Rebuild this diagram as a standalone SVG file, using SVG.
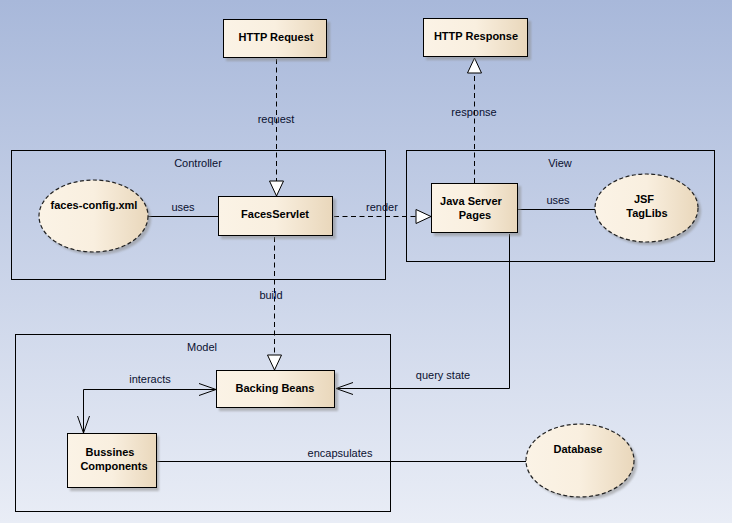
<svg xmlns="http://www.w3.org/2000/svg" width="732" height="523" viewBox="0 0 732 523">
<defs>
<linearGradient id="bg" x1="0" y1="0" x2="0" y2="1">
<stop offset="0" stop-color="#a8b8da"/>
<stop offset="1" stop-color="#e9edf6"/>
</linearGradient>
<linearGradient id="nf" x1="0" y1="0" x2="1" y2="0">
<stop offset="0" stop-color="#fbf3e6"/>
<stop offset="0.5" stop-color="#f9efdf"/>
<stop offset="1" stop-color="#e9d7bb"/>
</linearGradient>
<filter id="sh" x="-20%" y="-20%" width="150%" height="150%">
<feGaussianBlur stdDeviation="1"/>
</filter>
<marker id="tri" markerWidth="16" markerHeight="18" refX="16" refY="8" orient="auto" markerUnits="userSpaceOnUse">
<path d="M1,1 L16,8 L1,15 Z" fill="#ffffff" stroke="#000" stroke-width="1"/>
</marker>
<marker id="open" markerWidth="20" markerHeight="14" refX="18" refY="7" orient="auto" markerUnits="userSpaceOnUse">
<path d="M1,1 L18,7 L1,13" fill="none" stroke="#000" stroke-width="1"/>
</marker>
<marker id="openS" markerWidth="20" markerHeight="14" refX="2" refY="7" orient="auto" markerUnits="userSpaceOnUse">
<path d="M19,1 L2,7 L19,13" fill="none" stroke="#000" stroke-width="1"/>
</marker>
</defs>
<style>
.frame{fill:none;stroke:#000;stroke-width:1}
.box{fill:url(#nf);stroke:#000;stroke-width:1}
.ell{fill:url(#nf);stroke:#222;stroke-width:1.2;stroke-dasharray:4,2.5}
.shadow{fill:#8c8c8c;opacity:0.55;filter:url(#sh)}
.nt{font-family:"Liberation Sans",Arial,sans-serif;font-size:11px;font-weight:bold;fill:#000;text-anchor:middle}
.lt{font-family:"Liberation Sans",Arial,sans-serif;font-size:11px;fill:#0a1030;text-anchor:middle}
.ln{fill:none;stroke:#000;stroke-width:1}
.dash{stroke-dasharray:5,3.5}
</style>
<rect x="0" y="0" width="732" height="523" fill="url(#bg)"/>

<g id="frames">
<g id="controller"><rect class="frame" x="11.5" y="150.5" width="374" height="129"/><text class="lt" x="198" y="167">Controller</text></g>
<g id="view"><rect class="frame" x="406.5" y="150.5" width="308" height="111"/><text class="lt" x="560" y="167">View</text></g>
<g id="model"><rect class="frame" x="15.5" y="334.5" width="375" height="177"/><text class="lt" x="202" y="351">Model</text></g>
</g>

<g id="connectors">
<path class="ln dash" d="M276.5,59 L276.5,196" marker-end="url(#tri)"/>
<text class="lt" x="276" y="123">request</text>
<path class="ln dash" d="M474.5,183 L474.5,58" marker-end="url(#tri)"/>
<text class="lt" x="474" y="116">response</text>
<path class="ln dash" d="M334,216.5 L431,216.5" marker-end="url(#tri)"/>
<text class="lt" x="382" y="211">render</text>
<path class="ln dash" d="M274.5,237 L274.5,370" marker-end="url(#tri)"/>
<text class="lt" x="271" y="299">build</text>
<path class="ln" d="M148,216.5 L218,216.5"/>
<text class="lt" x="183" y="211">uses</text>
<path class="ln" d="M518,209.5 L595,209.5"/>
<text class="lt" x="558" y="204">uses</text>
<path class="ln" d="M509.5,234 L509.5,388.5 L336,388.5" marker-end="url(#open)"/>
<text class="lt" x="443" y="379">query state</text>
<path class="ln" d="M216,389.5 L83.5,389.5 L83.5,433" marker-start="url(#openS)" marker-end="url(#open)"/>
<text class="lt" x="150" y="383">interacts</text>
<path class="ln" d="M157,461.5 L526,461.5"/>
<text class="lt" x="340" y="457">encapsulates</text>
</g>

<g id="http-request"><rect class="shadow" x="226" y="22" width="104" height="39"/><rect class="box" x="223.5" y="19.5" width="103" height="38"/><text class="nt" x="276" y="41">HTTP Request</text></g>
<g id="http-response"><rect class="shadow" x="426" y="21" width="105" height="39"/><rect class="box" x="423.5" y="18.5" width="104" height="38"/><text class="nt" x="476" y="40">HTTP Response</text></g>
<g id="faces-config"><ellipse class="shadow" cx="96.5" cy="219" rx="54.5" ry="36"/><ellipse class="ell" cx="93.5" cy="216" rx="54.5" ry="36"/><text class="nt" x="94" y="209">faces-config.xml</text></g>
<g id="faces-servlet"><rect class="shadow" x="221" y="199" width="115" height="40"/><rect class="box" x="218.5" y="196.5" width="114" height="39"/><text class="nt" x="275" y="218">FacesServlet</text></g>
<g id="jsp"><rect class="shadow" x="434" y="186" width="87" height="50"/><rect class="box" x="431.5" y="183.5" width="86" height="49"/><text class="nt" x="471" y="205">Java Server</text><text class="nt" x="475" y="219">Pages</text></g>
<g id="jsf-taglibs"><ellipse class="shadow" cx="649.5" cy="211" rx="51.5" ry="34"/><ellipse class="ell" cx="646.5" cy="208" rx="51.5" ry="34"/><text class="nt" x="644" y="203">JSF</text><text class="nt" x="647" y="217">TagLibs</text></g>
<g id="backing-beans"><rect class="shadow" x="219" y="373" width="119" height="38"/><rect class="box" x="216.5" y="370.5" width="118" height="37"/><text class="nt" x="275" y="392">Backing Beans</text></g>
<g id="bussines-components"><rect class="shadow" x="70" y="436" width="89" height="55"/><rect class="box" x="67.5" y="433.5" width="89" height="54"/><text class="nt" x="110" y="456">Bussines</text><text class="nt" x="114" y="470">Components</text></g>
<g id="database"><ellipse class="shadow" cx="583" cy="463.5" rx="54" ry="36.5"/><ellipse class="ell" cx="580" cy="460.5" rx="54" ry="36.5"/><text class="nt" x="578" y="453">Database</text></g>
</svg>
